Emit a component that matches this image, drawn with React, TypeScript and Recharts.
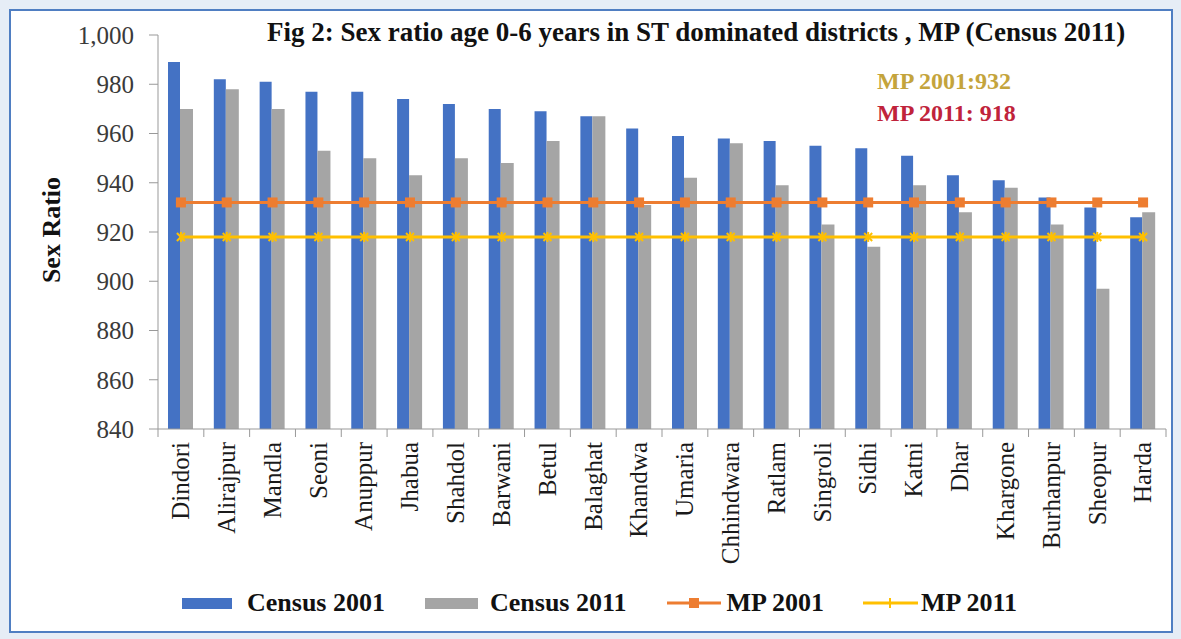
// Child sex ratio (0-6 yrs) in ST dominated districts of MP, Census 2001 vs 2011
import { ComposedChart, Bar, Line, XAxis, YAxis, Legend } from 'recharts';

const districts = [
  'Dindori', 'Alirajpur', 'Mandla', 'Seoni', 'Anuppur', 'Jhabua', 'Shahdol', 'Barwani',
  'Betul', 'Balaghat', 'Khandwa', 'Umaria', 'Chhindwara', 'Ratlam', 'Singroli', 'Sidhi',
  'Katni', 'Dhar', 'Khargone', 'Burhanpur', 'Sheopur', 'Harda',
];
const census2001 = [989, 982, 981, 977, 977, 974, 972, 970, 969, 967, 962, 959, 958, 957, 955, 954, 951, 943, 941, 934, 930, 926];
const census2011 = [970, 978, 970, 953, 950, 943, 950, 948, 957, 967, 931, 942, 956, 939, 923, 914, 939, 928, 938, 923, 897, 928];
const mp2001 = 932;
const mp2011 = 918;
const yTicks = [840, 860, 880, 900, 920, 940, 960, 980, 1000];

const data = districts.map((d, i) => ({
  district: d,
  c2001: census2001[i],
  c2011: census2011[i],
  mp2001,
  mp2011,
}));

const FONT = '"Liberation Serif", "Times New Roman", serif';
const BLUE = '#4472C4';
const GRAY = '#A5A5A5';
const ORANGE = '#ED7D31';
const YELLOW = '#FFC000';

const CHART_W = 1160;
const CHART_H = 620;
const MARGIN = { top: 24, right: 5, left: 67, bottom: 13 };
const Y_AXIS_W = 80;
const HALF_BAND = (CHART_W - MARGIN.left - MARGIN.right - Y_AXIS_W) / districts.length / 2;

function DistrictTick(props: any) {
  const { x, y, payload, index } = props;
  const last = index === districts.length - 1;
  return (
    <g>
      <line x1={x - HALF_BAND} x2={x - HALF_BAND} y1={y} y2={y + 8} stroke="#999" />
      {last && <line x1={x + HALF_BAND} x2={x + HALF_BAND} y1={y} y2={y + 8} stroke="#999" />}
      <text
        transform={`translate(${x},${y + 13}) rotate(-90)`}
        textAnchor="end"
        dy="0.33em"
        fontFamily={FONT}
        fontSize={25}
        fill="#1a1a1a"
      >
        {payload.value}
      </text>
    </g>
  );
}

function ValueTick(props: any) {
  const { x, y, payload } = props;
  return (
    <text x={x} y={y} dy="0.35em" textAnchor="end" fontFamily={FONT} fontSize={25} fill="#3a3a3a">
      {Number(payload.value).toLocaleString('en-US')}
    </text>
  );
}

function SquareDot(props: any) {
  const { cx, cy } = props;
  if (cx == null || cy == null) return null;
  return <rect x={cx - 5} y={cy - 5} width={10} height={10} fill={ORANGE} />;
}

function StarDot(props: any) {
  const { cx, cy } = props;
  if (cx == null || cy == null) return null;
  return (
    <g stroke={YELLOW} strokeWidth={2}>
      <line x1={cx - 4} y1={cy - 4} x2={cx + 4} y2={cy + 4} />
      <line x1={cx - 4} y1={cy + 4} x2={cx + 4} y2={cy - 4} />
      <line x1={cx} y1={cy - 5} x2={cx} y2={cy + 5} />
    </g>
  );
}

function LegendContent() {
  const label = { fontFamily: FONT, fontSize: 26, fontWeight: 700, color: '#111', lineHeight: '30px' };
  return (
    <div style={{ display: 'flex', alignItems: 'center', height: 30, paddingLeft: 104 }}>
      <div style={{ width: 50, height: 11, background: BLUE, marginRight: 15 }} />
      <span style={{ ...label, marginRight: 40 }}>Census 2001</span>
      <div style={{ width: 53, height: 11, background: GRAY, marginRight: 12 }} />
      <span style={{ ...label, marginRight: 40 }}>Census 2011</span>
      <svg width={54} height={14} style={{ marginRight: 6 }}>
        <line x1={0} x2={54} y1={7} y2={7} stroke={ORANGE} strokeWidth={3} />
        <rect x={22} y={2} width={10} height={10} fill={ORANGE} />
      </svg>
      <span style={{ ...label, marginRight: 39 }}>MP 2001</span>
      <svg width={55} height={14} style={{ marginRight: 3 }}>
        <line x1={0} x2={55} y1={7} y2={7} stroke={YELLOW} strokeWidth={3} />
        <line x1={27} x2={27} y1={2} y2={12} stroke={YELLOW} strokeWidth={2} />
      </svg>
      <span style={label}>MP 2011</span>
    </div>
  );
}

export default function App() {
  return (
    <div style={{ position: 'fixed', left: 0, top: 0, width: 1181, height: 639, background: '#E6EDF6' }}>
      <div
        style={{
          position: 'absolute',
          left: 9,
          top: 9,
          width: 1160,
          height: 620,
          border: '2px solid #4F7EC2',
          background: '#fff',
        }}
      >
        <ComposedChart
          width={CHART_W}
          height={CHART_H}
          data={data}
          margin={MARGIN}
          barGap={0}
          barCategoryGap="45%"
          style={{ fontFamily: FONT }}
        >
          <XAxis
            dataKey="district"
            interval={0}
            height={159}
            tick={<DistrictTick />}
            tickLine={false}
            tickSize={0}
            tickMargin={0}
            stroke="#999"
          />
          <YAxis
            width={Y_AXIS_W}
            domain={[840, 1000]}
            ticks={yTicks}
            allowDataOverflow
            tick={<ValueTick />}
            tickSize={9}
            tickMargin={15}
            stroke="#999"
          />
          <Legend verticalAlign="bottom" content={<LegendContent />} wrapperStyle={{ height: 30 }} />
          <Bar dataKey="c2001" name="Census 2001" fill={BLUE} barSize={12} isAnimationActive={false} />
          <Bar dataKey="c2011" name="Census 2011" fill={GRAY} barSize={13} isAnimationActive={false} />
          <Line
            dataKey="mp2001"
            name="MP 2001"
            stroke={ORANGE}
            strokeWidth={3}
            dot={<SquareDot />}
            isAnimationActive={false}
          />
          <Line
            dataKey="mp2011"
            name="MP 2011"
            stroke={YELLOW}
            strokeWidth={3}
            dot={<StarDot />}
            isAnimationActive={false}
          />
        </ComposedChart>

        <div
          style={{
            position: 'absolute',
            left: 256,
            top: 6,
            fontFamily: FONT,
            fontSize: 27,
            fontWeight: 700,
            color: '#111',
            whiteSpace: 'nowrap',
          }}
        >
          Fig 2: Sex ratio age 0-6 years in ST dominated districts , MP (Census 2011)
        </div>
        <div
          style={{
            position: 'absolute',
            left: 866,
            top: 57,
            fontFamily: FONT,
            fontSize: 24,
            fontWeight: 700,
            color: '#C4A43C',
            whiteSpace: 'nowrap',
          }}
        >
          MP 2001:932
        </div>
        <div
          style={{
            position: 'absolute',
            left: 866,
            top: 89,
            fontFamily: FONT,
            fontSize: 24,
            fontWeight: 700,
            color: '#C0233B',
            whiteSpace: 'nowrap',
          }}
        >
          MP 2011: 918
        </div>
        <div
          style={{
            position: 'absolute',
            left: 41,
            top: 219,
            transform: 'translate(-50%, -50%) rotate(-90deg)',
            fontFamily: FONT,
            fontSize: 26,
            fontWeight: 700,
            color: '#111',
            whiteSpace: 'nowrap',
          }}
        >
          Sex Ratio
        </div>
      </div>
    </div>
  );
}
